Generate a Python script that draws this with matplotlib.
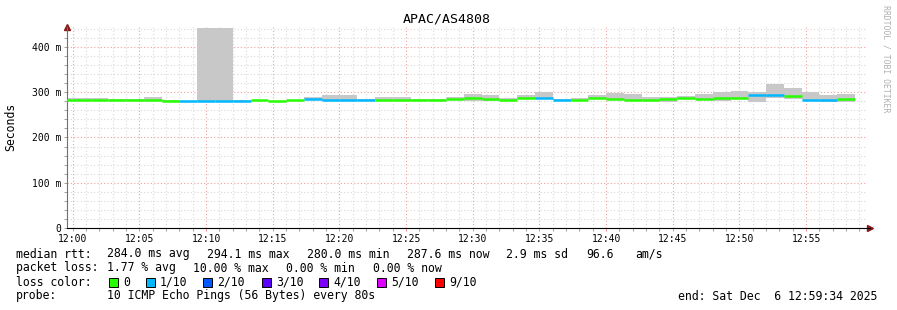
import matplotlib
matplotlib.use('Agg')
import matplotlib.pyplot as plt
import matplotlib.patches as mpatches
import numpy as np

plt.rcParams['font.family'] = ['DejaVu Sans Mono']

# 80 s steps, first one starts 80 s before 12:00 (x axis in minutes after 12:00)
step_min = 80 / 60
first_step = -1

median_ms = [283.5, 283.5, 283.5, 283.0, 283.0, 283.0, 280.2, 279.6, 281.3, 281.3,
             281.3, 282.0, 279.6, 282.0, 285.8, 283.0, 283.3, 282.0, 283.3, 283.3,
             282.0, 282.0, 285.5, 287.0, 284.4, 283.3, 287.0, 287.0, 283.3, 283.0,
             287.0, 284.5, 282.5, 282.5, 284.7, 287.0, 286.0, 287.0, 287.5, 294.0,
             293.5, 291.0, 283.6, 283.6, 286.0]
loss = [0, 0, 0, 0, 0, 0, 0, 1, 1, 1,
        1, 0, 0, 0, 1, 1, 1, 1, 0, 0,
        0, 0, 0, 0, 0, 0, 0, 1, 1, 0,
        0, 0, 0, 0, 0, 0, 0, 0, 0, 1,
        1, 0, 1, 1, 0]
smoke_lo = [282, 282, 282, 282, 282, 281, 279, 279, 280, 280,
            280, 281, 279, 281, 284, 281, 282, 281, 282, 282,
            281, 281, 284, 280, 281, 282, 285, 285, 282, 282,
            285, 283, 281, 281, 279, 285, 284, 280, 285, 279,
            287, 284, 283, 279, 279]
smoke_hi = [288, 288, 288, 285, 285, 290, 282, 281, 442, 442,
            283, 283, 281, 283, 289, 293, 294, 285, 289, 289,
            284, 285, 290, 297, 294, 287, 294, 300, 285, 288,
            294, 299, 296, 290, 290, 292, 297, 300, 303, 301,
            318, 310, 301, 294, 297]

loss_colors = {0: '#26ff00', 1: '#00b8ff', 2: '#0059ff', 3: '#5e00ff',
               4: '#7e00ff', 5: '#dd00ff', 9: '#ff0000'}
legend_labels = ['0', '1/10', '2/10', '3/10', '4/10', '5/10', '9/10']

W, H = 897, 310
fig = plt.figure(figsize=(W / 100, H / 100), dpi=100)
ax = fig.add_axes([67 / W, 82 / H, 800 / W, (228 - 26.6) / H])

edges = (np.arange(len(median_ms) + 1) + first_step) * step_min
ax.stairs(smoke_hi, edges, baseline=smoke_lo, fill=True, color='#c8c8c8', lw=0, zorder=2)
for i, m in enumerate(median_ms):
    ax.hlines(m, edges[i], edges[i + 1], color=loss_colors[loss[i]], lw=1.8, zorder=3)

ax.set_xlim(-26 / 60, 59 + 34 / 60)
ax.set_ylim(0, 445)

ax.set_xticks(np.arange(0, 60, 5))
ax.set_xticks(np.arange(0, 60, 1), minor=True)
ax.set_xticklabels(['12:%02d' % m for m in range(0, 60, 5)])
ax.set_yticks([0, 100, 200, 300, 400])
ax.set_yticks(np.arange(0, 445, 20), minor=True)
ax.set_yticklabels(['0', '100 m', '200 m', '300 m', '400 m'])

ax.grid(which='minor', color='#d8d8d8', linestyle=(0, (1, 2)), lw=0.8, zorder=0)
ax.grid(which='major', color='#f0a0a0', linestyle=(0, (1, 2)), lw=0.8, zorder=1)
ax.tick_params(which='both', labelsize=7, length=2, width=0.6, color='#909090', pad=2)
ax.tick_params(axis='x', which='major', color='#e08080')

for s in ['top', 'right']:
    ax.spines[s].set_visible(False)
ax.spines['left'].set_color('#707070')
ax.spines['bottom'].set_color('black')
ax.spines['bottom'].set_zorder(4)
ax.plot([0], [1.0], marker='^', color='#8b1a1a', ms=4, transform=ax.transAxes, clip_on=False)
ax.plot([1.004], [0], marker='>', color='#8b1a1a', ms=4, transform=ax.transAxes, clip_on=False)
ax.spines['bottom'].set_bounds(-26 / 60, 59.8)

fig.text(447 / W, 1 - 19 / H, 'APAC/AS4808', fontsize=9.5, ha='center', va='center')
fig.text(11 / W, 1 - 127 / H, 'Seconds', fontsize=8.3, rotation=90, ha='center', va='center')
fig.text(886 / W, 1 - 59 / H, 'RRDTOOL / TOBI OETIKER', fontsize=5.9, rotation=-90,
         color='#b0b0b0', ha='center', va='center')


def put(x, y, s):
    fig.text(x / W, 1 - y / H, s, fontsize=8.3, ha='left', va='center')


put(16, 254, 'median rtt:')
put(107, 254, '284.0 ms avg')
put(207, 254, '294.1 ms max')
put(307, 254, '280.0 ms min')
put(407, 254, '287.6 ms now')
put(506, 254, '2.9 ms sd')
put(586, 254, '96.6')
put(635, 254, 'am/s')

put(16, 268, 'packet loss:')
put(107, 268, '1.77 % avg')
put(193, 268, '10.00 % max')
put(286, 268, '0.00 % min')
put(373, 268, '0.00 % now')

put(16, 282, 'loss color:')
box_x = [109, 146, 203, 262, 319, 377, 435]
for bx, lab, key in zip(box_x, legend_labels, [0, 1, 2, 3, 4, 5, 9]):
    fig.patches.append(mpatches.Rectangle((bx / W, 1 - 286.5 / H), 9 / W, 9 / H,
                                          transform=fig.transFigure, facecolor=loss_colors[key],
                                          edgecolor='black', lw=0.7))
    put(bx + 14, 282, lab)

put(16, 296, 'probe:')
put(107, 296, '10 ICMP Echo Pings (56 Bytes) every 80s')
put(678, 296, 'end: Sat Dec  6 12:59:34 2025')

fig.savefig('out.png', dpi=100)
